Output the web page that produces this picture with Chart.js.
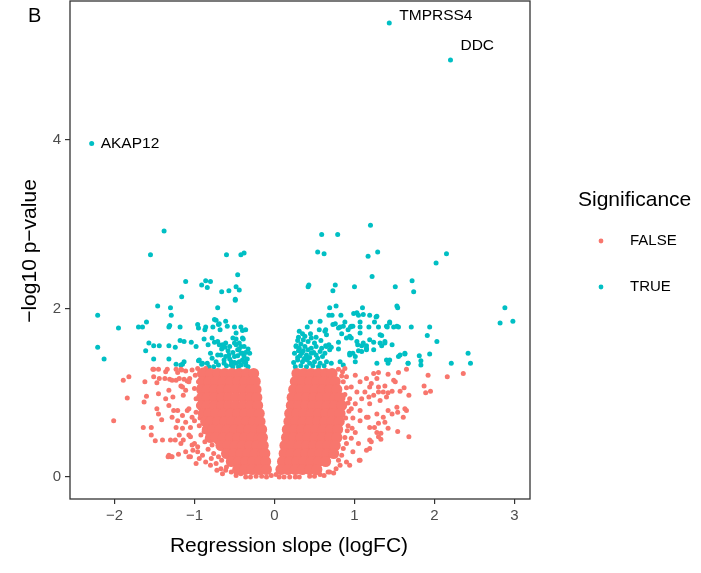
<!DOCTYPE html>
<html>
<head>
<meta charset="utf-8">
<script src="https://cdn.jsdelivr.net/npm/chart.js@4.4.1/dist/chart.umd.min.js"></script>
<style>
  html, body { margin: 0; padding: 0; background: #fff; }
  canvas { display: block; }
</style>
</head>
<body>
<canvas id="chart" width="701" height="573"></canvas>
<script>
// Volcano plot, panel B

// axis ticks
const xTicks = [-2, -1, 0, 1, 2, 3];
const yTicks = [0, 2, 4];

// labelled genes
const geneNames = ['AKAP12', 'TMPRSS4', 'DDC'];
const geneX = [-2.285, 1.435, 2.20];
const geneY = [3.96, 5.39, 4.95];

// dense part of the non-significant cloud, row by row: [y, [x...]]
const denseLeftRows = [
  [1.23, [-0.90, -0.80, -0.71, -0.62, -0.53, -0.44, -0.35, -0.26]],
  [1.135, [-0.90, -0.82, -0.73, -0.64, -0.55, -0.46, -0.37, -0.28, -0.24]],
  [1.04, [-0.91, -0.84, -0.75, -0.66, -0.57, -0.48, -0.39, -0.30, -0.23]],
  [0.945, [-0.91, -0.84, -0.75, -0.66, -0.57, -0.48, -0.39, -0.30, -0.22]],
  [0.85, [-0.91, -0.84, -0.75, -0.66, -0.57, -0.48, -0.39, -0.30, -0.21]],
  [0.755, [-0.89, -0.82, -0.73, -0.64, -0.55, -0.46, -0.37, -0.28, -0.19]],
  [0.66, [-0.86, -0.80, -0.71, -0.62, -0.53, -0.44, -0.35, -0.26, -0.18]],
  [0.565, [-0.84, -0.77, -0.68, -0.59, -0.50, -0.41, -0.32, -0.23, -0.16]],
  [0.47, [-0.80, -0.73, -0.64, -0.55, -0.46, -0.37, -0.28, -0.19, -0.15]],
  [0.375, [-0.67, -0.58, -0.49, -0.40, -0.31, -0.22, -0.14]],
  [0.28, [-0.60, -0.51, -0.42, -0.33, -0.24, -0.15, -0.12]],
  [0.185, [-0.54, -0.45, -0.36, -0.27, -0.18, -0.11]],
  [0.09, [-0.46, -0.37, -0.28, -0.19, -0.10]]
];
const denseRightRows = [
  [1.23, [0.28, 0.37, 0.46, 0.55, 0.64, 0.72]],
  [1.135, [0.26, 0.35, 0.44, 0.53, 0.62, 0.71, 0.76]],
  [1.04, [0.24, 0.33, 0.42, 0.51, 0.60, 0.69, 0.78]],
  [0.945, [0.22, 0.31, 0.40, 0.49, 0.58, 0.67, 0.76, 0.82]],
  [0.85, [0.21, 0.30, 0.39, 0.48, 0.57, 0.66, 0.75, 0.84]],
  [0.755, [0.19, 0.28, 0.37, 0.46, 0.55, 0.64, 0.73, 0.82]],
  [0.66, [0.18, 0.27, 0.36, 0.45, 0.54, 0.63, 0.72, 0.81]],
  [0.565, [0.16, 0.25, 0.34, 0.43, 0.52, 0.61, 0.70, 0.79]],
  [0.47, [0.15, 0.24, 0.33, 0.42, 0.51, 0.60, 0.69, 0.78]],
  [0.375, [0.13, 0.22, 0.31, 0.40, 0.49, 0.58, 0.67, 0.76]],
  [0.28, [0.12, 0.21, 0.30, 0.39, 0.48, 0.57, 0.66, 0.74]],
  [0.185, [0.10, 0.19, 0.28, 0.37, 0.46, 0.55, 0.64]],
  [0.09, [0.08, 0.17, 0.26, 0.35, 0.44, 0.53]]
];

// scattered non-significant genes
const falseLeft = [
  [-1.82, 1.19], [-1.89, 1.15], [-1.84, 0.94], [-2.01, 0.67], [-1.62, 1.13], [-1.60, 0.96],
  [-1.63, 0.89], [-1.64, 0.59], [-1.54, 0.59], [-1.54, 0.50], [-1.49, 0.43], [-1.40, 0.44],
  [-1.33, 0.24], [-1.29, 0.24], [-1.20, 0.27], [-1.52, 1.28], [-1.45, 1.28], [-1.51, 1.19],
  [-1.44, 1.17], [-1.47, 1.12], [-1.45, 0.99], [-1.36, 1.25], [-1.34, 1.28], [-1.37, 1.17],
  [-1.31, 1.16], [-1.47, 0.81], [-1.45, 0.75], [-1.41, 0.68], [-1.36, 0.93], [-1.32, 1.03],
  [-1.27, 0.95], [-1.32, 0.85], [-1.26, 0.79], [-1.28, 0.71], [-1.21, 0.67], [-1.23, 0.59],
  [-1.30, 0.44], [-1.24, 0.44], [-1.19, 0.50], [-1.17, 0.40], [-1.14, 0.44], [-1.07, 0.24],
  [-1.02, 0.32], [-0.98, 0.16], [-1.21, 1.24], [-1.16, 1.27], [-1.23, 1.15], [-1.13, 1.16],
  [-1.09, 1.14], [-1.06, 1.17], [-1.17, 1.08], [-1.14, 0.97], [-1.11, 1.03], [-1.21, 0.79],
  [-1.15, 0.73], [-1.09, 0.79], [-1.11, 0.65], [-1.05, 0.59], [-1.03, 0.71], [-1.05, 0.48],
  [-1.00, 0.40], [-0.96, 0.36], [-0.94, 0.22], [-0.96, 1.29], [-0.99, 1.21], [-1.51, 1.28],
  [-1.23, 1.28], [-1.17, 1.28], [-1.11, 1.26], [-1.03, 1.27], [-0.90, 1.27], [-1.28, 1.15],
  [-1.19, 1.17], [-1.15, 1.07], [-1.07, 1.13], [-1.00, 1.05], [-0.94, 1.07], [-0.98, 0.93],
  [-0.90, 0.97], [-1.07, 0.81], [-0.98, 0.77], [-0.90, 0.75], [-1.00, 0.67], [-0.94, 0.61],
  [-1.15, 0.58], [-1.07, 0.50], [-1.03, 0.38], [-1.11, 0.30], [-1.05, 0.24], [-0.96, 0.30],
  [-0.90, 0.26], [-0.86, 0.18], [-0.80, 0.14], [-0.73, 0.16], [-0.84, 0.46], [-0.88, 0.54],
  [-0.82, 0.61], [-0.86, 0.69], [-0.80, 0.77], [-0.84, 0.89], [-0.78, 0.97], [-1.32, 0.26],
  [-1.28, 0.24], [-0.67, 0.10], [-0.61, 0.08], [-0.54, 0.06], [-0.48, 0.02], [-0.36, 0.00],
  [-0.23, 0.01], [-0.10, 0.00], [-0.04, 0.02], [-0.88, 1.18], [-0.86, 1.29], [-0.76, 0.28],
  [-0.70, 0.24], [-0.78, 0.38], [-0.72, 0.42], [-0.66, 0.20], [-0.60, 0.12], [-0.42, 0.04],
  [-0.92, 1.22], [-0.95, 1.13], [-0.91, 1.10], [-0.93, 1.00], [-0.95, 0.85], [-0.91, 0.82],
  [-0.93, 0.70], [-0.89, 0.64], [-0.92, 0.50], [-0.87, 0.42], [-0.83, 0.33], [-0.79, 0.22],
  [-0.72, 0.08], [-0.65, 0.04], [-0.30, 0.00], [-0.16, 0.01]
];
const falseRight = [
  [1.65, 1.28], [1.55, 1.24], [1.42, 1.22], [1.30, 1.24], [1.24, 1.23], [1.28, 1.17],
  [1.21, 1.11], [1.30, 1.07], [1.38, 1.08], [1.49, 1.15], [1.51, 1.13], [1.47, 1.02],
  [1.57, 1.02], [1.62, 1.06], [1.68, 0.97], [1.36, 1.01], [1.42, 1.00], [1.32, 0.91],
  [1.40, 0.95], [1.92, 1.21], [2.16, 1.19], [2.36, 1.23], [1.87, 1.08], [1.89, 1.00],
  [1.95, 1.02], [1.53, 0.83], [1.54, 0.77], [1.63, 0.81], [1.65, 0.79], [1.61, 0.71],
  [1.42, 0.79], [1.47, 0.75], [1.36, 0.71], [1.38, 0.65], [1.42, 0.58], [1.54, 0.54],
  [1.68, 0.48], [1.33, 0.52], [1.33, 0.45], [1.19, 0.44], [1.25, 0.59], [1.30, 0.64],
  [1.28, 0.75], [1.17, 0.71], [1.19, 0.34], [1.15, 0.32], [1.06, 0.20], [0.94, 0.14],
  [0.67, 0.06], [1.19, 0.87], [1.18, 0.95], [1.24, 0.97], [1.30, 1.01], [0.90, 1.19],
  [1.01, 1.21], [1.07, 1.13], [0.96, 1.07], [1.03, 1.01], [1.15, 1.17], [1.19, 1.07],
  [1.13, 1.01], [1.09, 0.93], [0.94, 0.93], [1.01, 0.87], [0.96, 0.81], [1.07, 0.79],
  [0.92, 0.61], [1.01, 0.53], [1.07, 0.67], [1.15, 0.71], [0.96, 0.46], [1.05, 0.40],
  [0.98, 0.30], [1.07, 0.20], [1.19, 0.59], [1.28, 0.53], [1.21, 0.42], [1.30, 0.48],
  [0.84, 0.26], [0.90, 0.18], [0.77, 0.10], [0.69, 0.06], [0.06, 0.00], [0.19, 0.00],
  [0.31, 0.00], [0.44, 0.01], [0.57, 0.03], [0.80, 1.28], [0.85, 1.25], [0.88, 1.29],
  [0.90, 1.06], [0.92, 0.88], [0.90, 0.40], [0.86, 0.34], [0.02, 0.03], [0.80, 0.20],
  [0.84, 1.20], [0.86, 1.13], [0.88, 0.98], [0.93, 0.78], [0.89, 0.70], [0.91, 0.55],
  [0.88, 0.47], [0.82, 0.14], [0.74, 0.05], [0.62, 0.02], [0.50, 0.01], [0.12, 0.00],
  [0.26, 0.00], [0.98, 0.70], [0.97, 0.58]
];

// significant genes
const trueLeft = [
  [-1.38, 2.92], [-1.55, 2.64], [-0.60, 2.64], [-0.42, 2.64], [-0.38, 2.66], [-0.46, 2.40],
  [-1.11, 2.32], [-0.86, 2.33], [-0.80, 2.32], [-0.91, 2.28], [-0.84, 2.25], [-0.48, 2.26],
  [-0.44, 2.22], [-0.49, 2.11], [-0.66, 2.20], [-0.57, 2.21], [-1.16, 2.14], [-1.46, 2.03],
  [-1.30, 2.01], [-1.29, 1.92], [-0.71, 2.01], [-0.49, 2.10], [-2.21, 1.92], [-1.95, 1.77],
  [-1.70, 1.78], [-1.65, 1.78], [-1.60, 1.84], [-1.32, 1.78], [-1.31, 1.80], [-1.18, 1.78],
  [-0.96, 1.81], [-0.95, 1.77], [-0.86, 1.78], [-0.87, 1.75], [-0.77, 1.78], [-0.73, 1.86],
  [-0.70, 1.81], [-0.68, 1.75], [-0.61, 1.85], [-0.59, 1.79], [-0.50, 1.78], [-0.42, 1.78],
  [-0.36, 1.75], [-2.21, 1.54], [-2.13, 1.40], [-1.57, 1.59], [-1.51, 1.56], [-1.44, 1.56],
  [-1.61, 1.50], [-1.51, 1.40], [-1.32, 1.56], [-1.24, 1.54], [-1.32, 1.40], [-1.18, 1.62],
  [-1.13, 1.61], [-1.04, 1.60], [-0.98, 1.55], [-1.23, 1.34], [-1.15, 1.34], [-0.95, 1.38],
  [-0.91, 1.34], [-0.88, 1.64], [-0.83, 1.57], [-0.78, 1.65], [-0.75, 1.60], [-0.71, 1.61],
  [-0.65, 1.57], [-0.62, 1.54], [-0.80, 1.47], [-0.78, 1.41], [-0.73, 1.37], [-0.67, 1.45],
  [-0.63, 1.39], [-0.57, 1.45], [-0.54, 1.37], [-0.50, 1.43], [-0.56, 1.55], [-0.48, 1.57],
  [-0.42, 1.55], [-0.39, 1.64], [-0.52, 1.65], [-0.42, 1.47], [-0.38, 1.43], [-0.31, 1.47],
  [-0.44, 1.37], [-0.36, 1.36], [-0.75, 1.87], [-0.69, 1.82], [-0.40, 1.74], [-0.69, 1.57],
  [-0.61, 1.59], [-0.50, 1.59], [-0.48, 1.64], [-0.44, 1.59], [-0.40, 1.65], [-0.38, 1.55],
  [-0.71, 1.45], [-0.61, 1.43], [-0.46, 1.51], [-0.40, 1.47], [-0.38, 1.37], [-0.94, 1.39],
  [-0.90, 1.35], [-0.84, 1.35], [-0.82, 1.31], [-1.17, 1.33], [-1.13, 1.37], [-0.63, 1.35],
  [-0.54, 1.33], [-0.48, 1.35], [-0.42, 1.33], [-0.36, 1.33], [-0.48, 1.71], [-0.33, 1.52],
  [-0.58, 1.50], [-0.52, 1.48], [-0.46, 1.44], [-0.44, 1.52], [-0.36, 1.48], [-0.34, 1.40],
  [-0.40, 1.39], [-0.50, 1.36], [-0.56, 1.40], [-0.60, 1.32], [-0.70, 1.33], [-0.76, 1.31],
  [-0.66, 1.52], [-0.33, 1.31], [-0.45, 1.31], [-0.52, 1.31]
];
const trueRight = [
  [0.59, 2.88], [0.79, 2.88], [1.20, 2.99], [0.54, 2.67], [0.62, 2.65], [1.17, 2.62],
  [1.29, 2.67], [2.02, 2.54], [2.15, 2.65], [1.22, 2.38], [1.72, 2.33], [1.74, 2.20],
  [1.51, 2.26], [0.42, 2.26], [0.43, 2.28], [0.76, 2.28], [0.73, 2.21], [1.00, 2.26],
  [2.88, 2.01], [2.82, 1.83], [2.98, 1.85], [0.69, 2.01], [0.77, 2.03], [1.10, 2.01],
  [1.54, 2.01], [0.68, 1.92], [0.72, 1.92], [0.83, 1.92], [0.99, 1.94], [1.05, 1.92],
  [1.19, 1.92], [1.27, 1.90], [0.57, 1.85], [0.45, 1.84], [0.41, 1.78], [0.64, 1.75],
  [0.56, 1.75], [0.76, 1.82], [0.82, 1.78], [0.84, 1.70], [0.88, 1.84], [0.95, 1.78],
  [0.98, 1.79], [1.07, 1.84], [1.07, 1.78], [1.18, 1.78], [1.25, 1.84], [1.30, 1.78],
  [1.41, 1.78], [1.44, 1.84], [1.49, 1.78], [1.55, 1.78], [1.71, 1.78], [1.94, 1.78],
  [1.34, 1.68], [1.91, 1.68], [2.03, 1.61], [0.80, 1.60], [0.90, 1.65], [0.96, 1.65],
  [0.68, 1.57], [0.64, 1.56], [0.71, 1.54], [1.04, 1.57], [1.09, 1.56], [1.15, 1.56],
  [1.24, 1.60], [1.15, 1.51], [1.24, 1.51], [1.38, 1.59], [1.47, 1.57], [1.34, 1.56],
  [0.80, 1.52], [0.94, 1.45], [0.98, 1.47], [1.05, 1.50], [1.57, 1.45], [1.63, 1.46],
  [1.81, 1.44], [1.83, 1.38], [1.83, 1.33], [1.94, 1.46], [2.42, 1.47], [2.45, 1.35],
  [2.21, 1.35], [1.28, 1.35], [1.40, 1.39], [1.42, 1.35], [1.67, 1.35], [1.55, 1.43],
  [0.73, 1.81], [0.80, 1.77], [0.86, 1.79], [0.92, 1.75], [0.96, 1.79], [0.63, 1.73],
  [0.65, 1.69], [0.38, 1.67], [0.36, 1.63], [0.42, 1.61], [0.46, 1.65], [0.50, 1.59],
  [0.27, 1.55], [0.31, 1.53], [0.38, 1.55], [0.42, 1.51], [0.46, 1.53], [0.52, 1.55],
  [0.59, 1.53], [0.65, 1.55], [0.34, 1.47], [0.40, 1.45], [0.46, 1.47], [0.52, 1.45],
  [0.57, 1.49], [0.63, 1.47], [0.69, 1.51], [0.29, 1.39], [0.35, 1.37], [0.44, 1.35],
  [0.50, 1.37], [0.57, 1.35], [0.65, 1.37], [0.71, 1.35], [0.82, 1.37], [0.86, 1.33],
  [1.01, 1.37], [0.94, 1.47], [1.01, 1.43], [1.09, 1.49], [1.15, 1.53], [1.32, 1.59],
  [1.38, 1.61], [1.44, 1.39], [1.63, 1.47], [1.67, 1.35], [0.94, 1.67], [1.03, 1.61],
  [1.11, 1.59], [1.19, 1.63], [1.07, 1.71], [1.11, 1.93], [1.28, 1.91], [1.03, 1.95],
  [1.53, 2.03], [1.40, 1.79], [1.44, 1.83], [1.53, 1.79], [1.32, 1.69], [0.29, 1.62],
  [0.27, 1.56], [0.29, 1.42], [0.30, 1.66], [0.33, 1.58], [0.36, 1.50], [0.39, 1.42],
  [0.32, 1.44], [0.37, 1.40], [0.41, 1.39], [0.25, 1.47], [0.24, 1.36], [0.26, 1.31],
  [0.33, 1.32], [0.40, 1.31], [0.48, 1.32], [0.55, 1.31], [0.62, 1.32], [0.30, 1.50],
  [0.44, 1.42], [0.49, 1.48], [0.54, 1.41], [0.60, 1.43], [0.35, 1.70], [0.31, 1.73],
  [0.45, 1.70], [0.52, 1.66], [0.58, 1.62]
];

// colours / fonts
const RED = '#F8766D';
const TEAL = '#00BFC4';
const FONT = "'Liberation Sans', Arial, sans-serif";

// label offsets in pixels (ggrepel-ish placement)
const labelOffsets = [[9, 0], [10, -7], [10, -14]];

const toPts = arr => arr.map(p => ({ x: p[0], y: p[1] }));
const rowsToPts = rows => rows.flatMap(r => r[1].map(x => ({ x: x, y: r[0] })));
const minusFmt = v => (v < 0 ? '\u2212' + Math.abs(v) : String(v));

const denseData = rowsToPts(denseLeftRows).concat(rowsToPts(denseRightRows));
const falseData = toPts(falseLeft).concat(toPts(falseRight));
const trueData = toPts(trueLeft).concat(toPts(trueRight));
const geneData = geneX.map((x, i) => ({ x: x, y: geneY[i] }));

function pointSet(data, color, r) {
  return {
    data: data,
    backgroundColor: color,
    borderWidth: 0,
    pointRadius: r,
    pointHoverRadius: r,
    pointBorderWidth: 0
  };
}

// frame + texts drawn on top
const decor = {
  id: 'decor',
  afterDatasetsDraw(chart) {
    const { ctx, chartArea: a, scales } = chart;
    ctx.save();
    ctx.strokeStyle = '#333333';
    ctx.lineWidth = 1.3;
    ctx.strokeRect(a.left, a.top, a.right - a.left, a.bottom - a.top);

    // gene labels
    ctx.fillStyle = '#000';
    ctx.font = '15.5px ' + FONT;
    ctx.textAlign = 'left';
    ctx.textBaseline = 'middle';
    geneNames.forEach((name, i) => {
      const px = scales.x.getPixelForValue(geneX[i]);
      const py = scales.y.getPixelForValue(geneY[i]);
      ctx.fillText(name, px + labelOffsets[i][0], py + labelOffsets[i][1]);
    });
    ctx.restore();
  },
  afterDraw(chart) {
    const ctx = chart.ctx;
    ctx.save();
    ctx.fillStyle = '#000';
    ctx.textBaseline = 'middle';

    // panel letter
    ctx.font = '20px ' + FONT;
    ctx.textAlign = 'left';
    ctx.fillText('B', 28, 16);

    // axis titles
    ctx.font = '21px ' + FONT;
    ctx.textAlign = 'center';
    ctx.fillText('Regression slope (logFC)', 289, 546);
    ctx.save();
    ctx.translate(30, 251);
    ctx.rotate(-Math.PI / 2);
    ctx.fillText('\u2212log10 p\u2212value', 0, 0);
    ctx.restore();

    // legend
    ctx.textAlign = 'left';
    ctx.font = '21px ' + FONT;
    ctx.fillText('Significance', 578, 200);
    ctx.font = '15px ' + FONT;
    [['FALSE', RED, 241], ['TRUE', TEAL, 287]].forEach(([lab, col, y]) => {
      ctx.fillStyle = col;
      ctx.beginPath();
      ctx.arc(601, y, 2.4, 0, Math.PI * 2);
      ctx.fill();
      ctx.fillStyle = '#000';
      ctx.fillText(lab, 630, y);
    });
    ctx.restore();
  }
};

const axisGrid = {
  display: true,
  drawOnChartArea: false,
  drawTicks: true,
  tickLength: 5,
  color: '#333333',
  lineWidth: 1.2
};

new Chart(document.getElementById('chart').getContext('2d'), {
  type: 'scatter',
  data: {
    datasets: [
      pointSet(denseData, RED, 5.5),
      pointSet(falseData, RED, 2.5),
      pointSet(trueData, TEAL, 2.5),
      pointSet(geneData, TEAL, 2.5)
    ]
  },
  options: {
    responsive: false,
    animation: false,
    events: [],
    layout: { autoPadding: false, padding: { left: 0, right: 171, top: 1, bottom: 0 } },
    scales: {
      x: {
        type: 'linear',
        min: -2.556,
        max: 3.194,
        afterFit: s => { s.height = 74; s.paddingLeft = 0; s.paddingRight = 0; },
        afterBuildTicks: s => { s.ticks = xTicks.map(v => ({ value: v })); },
        grid: axisGrid,
        border: { display: false },
        ticks: {
          color: '#4D4D4D',
          font: { family: FONT, size: 15 },
          padding: 3,
          maxRotation: 0,
          callback: v => minusFmt(v)
        }
      },
      y: {
        type: 'linear',
        min: -0.26,
        max: 5.65,
        afterFit: s => { s.width = 70; s.paddingTop = 0; s.paddingBottom = 0; },
        afterBuildTicks: s => { s.ticks = yTicks.map(v => ({ value: v })); },
        grid: axisGrid,
        border: { display: false },
        ticks: {
          color: '#4D4D4D',
          font: { family: FONT, size: 15 },
          padding: 4,
          callback: v => minusFmt(v)
        }
      }
    },
    plugins: {
      legend: { display: false },
      tooltip: { enabled: false }
    }
  },
  plugins: [decor]
});
</script>
</body>
</html>
